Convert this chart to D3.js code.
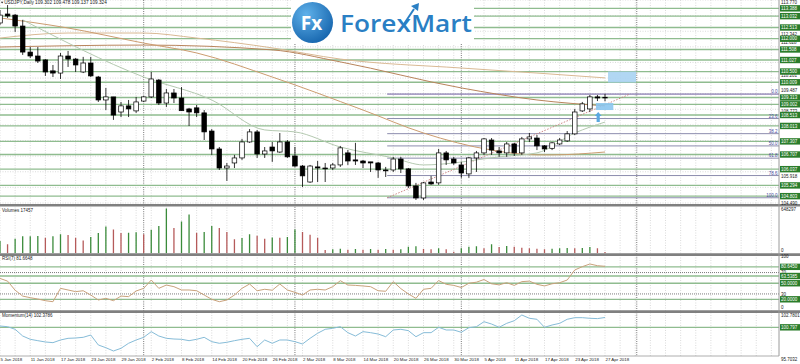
<!DOCTYPE html>
<html>
<head>
<meta charset="utf-8">
<title>USDJPY Daily</title>
<script src="https://cdn.jsdelivr.net/npm/d3@7/dist/d3.min.js"></script>
<style>
	body { margin: 0; background: #ffffff; }
	svg text { font-family: "Liberation Sans", Arial, sans-serif; font-size: 4.5px; fill: #222; }
</style>
</head>
<body>
<div id="chart-area"></div>
<script>

// ---- values ----

// one entry per daily bar, 5 Jan 2018 .. 27 Apr 2018
let open  = [112.72,113.13,113.08,112.58,111.39,111.21,111.03,110.53,110.43,111.21,111.07,110.48,110.89,110.25,109.20,109.34,108.65,108.93,108.70,109.15,
             109.34,110.11,109.06,109.52,109.29,108.79,108.84,108.61,107.78,106.96,106.09,106.32,106.55,107.28,107.74,106.73,107.05,106.82,107.28,106.64,
             106.18,105.45,106.14,106.09,106.09,106.23,106.78,106.46,106.41,106.37,106.32,106.00,106.00,106.50,106.05,105.27,104.72,105.45,105.41,106.78,
             106.50,106.23,105.82,106.55,106.78,107.37,106.87,106.78,107.19,106.78,107.42,107.46,107.10,106.99,107.19,107.33,107.65,108.70,108.79,109.34,
             109.302];
let high  = [113.31,113.54,113.13,112.86,111.62,111.62,111.07,110.80,111.35,111.44,111.12,111.17,111.17,110.30,109.75,109.34,109.11,109.20,109.34,109.38,
             110.48,110.16,109.70,109.70,109.79,108.84,108.97,108.74,107.87,107.05,106.32,106.69,107.42,107.87,107.83,107.05,107.28,107.69,107.37,107.05,
             106.23,106.23,106.41,106.32,106.32,107.10,106.91,107.24,106.46,106.37,106.37,106.14,106.60,106.60,106.09,105.41,105.45,105.73,106.96,106.87,
             106.60,106.37,106.60,106.87,107.46,107.46,107.05,107.28,107.24,107.51,107.69,107.60,107.14,107.28,107.46,107.78,108.79,109.11,109.43,109.43,
             109.478];
let low   = [112.63,112.95,112.31,111.26,111.12,110.89,110.30,110.25,110.16,110.71,110.48,110.43,110.25,109.11,108.74,108.29,108.42,108.42,108.61,109.11,
             109.29,108.97,108.88,109.06,108.70,108.01,108.42,107.37,106.69,106.00,105.50,106.09,106.46,107.24,106.55,106.55,106.37,106.78,106.55,106.14,
             105.22,105.41,105.45,105.45,106.00,106.14,106.23,106.23,106.09,105.91,105.64,105.68,105.91,105.86,105.18,104.63,104.63,105.32,105.32,106.23,
             106.23,105.64,105.64,105.91,106.69,106.69,106.60,106.60,106.64,106.69,107.28,106.91,106.82,106.91,107.14,107.28,107.60,108.65,108.65,109.15,
             109.137];
let close = [113.08,113.04,112.58,111.39,111.21,110.98,110.48,110.43,111.21,111.07,110.80,110.89,110.30,109.20,109.34,108.51,108.93,108.79,109.11,109.34,
             110.16,109.06,109.52,109.29,108.71,108.65,108.61,107.74,106.96,106.09,106.18,106.55,107.28,107.74,106.73,106.87,106.87,107.28,106.60,106.18,
             105.73,106.18,106.09,106.05,106.23,107.01,106.41,106.41,106.32,106.32,106.00,105.96,106.50,106.05,105.27,104.72,105.41,105.36,106.78,106.46,
             106.32,105.86,106.55,106.78,107.42,106.91,106.78,107.19,106.78,107.42,107.51,107.10,106.96,107.24,107.37,107.65,108.65,109.02,109.34,109.29,
             109.324];

let volume = [177000,130000,212000,245000,246000,250000,226000,245000,274000,264000,226000,187000,235000,293000,389000,346000,293000,298000,303000,274000,
              341000,394000,648297,365000,461000,562000,298000,307000,394000,365000,307000,202000,221000,274000,254000,211000,230000,226000,235000,346000,
              307000,269000,226000,48000,58000,67000,53000,62000,53000,62000,53000,62000,53000,58000,96000,101000,62000,58000,72000,58000,
              24000,72000,96000,101000,72000,130000,91000,106000,96000,82000,72000,67000,58000,67000,72000,77000,72000,77000,91000,72000,
              17457];

let rsi = [59,54,37,26,23,20.5,17.4,15.5,40.5,37.4,34.3,36,28,18.7,21.8,17.4,26,25,35.5,40.5,
           56,40.5,46.7,43.6,37.4,37.4,36,28,20,15.5,18.7,28,40.5,48.6,36,38.7,37,48.6,37.4,33,
           28,37.4,38.7,37.4,43.6,54.8,46.7,46,44.9,43.6,36,35,53,40,30,21.8,38.7,40.5,55,48,
           46,42,50,52,57,49,47,51,46,53,54,48,45,49,51,56,74.8,81,86,82.8,
           81.6648];

let momentum = [101.01,100.9,100.48,99.4,98.87,98.65,98.44,98.33,98.76,99.03,99.08,99.19,99.56,97.96,97.52,96.99,97.42,98.23,98.76,99.19,
                100.1,99.4,99.03,98.92,98.87,98.65,98.87,99.19,98.49,98.23,98.39,98.65,98.87,99.03,97.68,98.76,98.23,98.76,98.76,98.49,
                98.12,99.03,99.84,100.48,100.64,100.9,99.94,99.4,100.1,99.94,99.72,99.29,100.37,100.48,100.26,99.29,99.94,99.94,100.8,100.37,
                100.37,100.0,100.74,100.9,101.7,101.33,100.8,101.44,101.86,102.78,102.25,102.09,100.8,101.17,101.44,102.09,102.35,102.35,102.25,102.2,
                102.3786];

// moving averages, sampled at a few bars
let maSlowBar = [0, 9, 19, 26, 36, 45, 61, 71, 80];
let maSlow    = [112.03, 112.26, 112.26, 112.03, 111.58, 111.07, 110.66, 110.43, 110.21];
let maMidBar  = [0, 19, 36, 45, 61, 71, 80];
let maMid     = [111.62, 111.71, 111.49, 110.94, 109.75, 109.20, 108.93];
let maFastBar = [0, 9, 19, 26, 36, 48, 56, 65, 71, 73, 80];
let maFast    = [112.95, 112.49, 111.80, 111.35, 110.25, 108.74, 107.69, 106.91, 106.69, 106.69, 106.82];
let maShortBar = [3, 19, 28, 35, 39, 45, 52, 56, 60, 63, 66, 71, 76, 80];
let maShort    = [112.86, 110.25, 109.20, 107.83, 107.74, 107.05, 106.55, 106.23, 106.32, 106.46, 106.60, 106.78, 107.69, 108.19];

// time axis
let dateBar = [0, 4, 8, 12, 16, 20, 24, 28, 32, 36, 40, 44, 48, 52, 56, 60, 64, 68, 72, 76, 80];
let dateLabels = ["5 Jan 2018", "11 Jan 2018", "17 Jan 2018", "23 Jan 2018", "29 Jan 2018", "2 Feb 2018", "8 Feb 2018",
                  "14 Feb 2018", "20 Feb 2018", "26 Feb 2018", "2 Mar 2018", "8 Mar 2018", "14 Mar 2018", "20 Mar 2018",
                  "26 Mar 2018", "30 Mar 2018", "5 Apr 2018", "11 Apr 2018", "17 Apr 2018", "23 Apr 2018", "27 Apr 2018"];
let monthBars = [19, 39, 61, 84.2];

// price axis
let priceTicks = [113.770, 113.056, 112.342, 111.628, 110.915, 110.201, 109.487, 108.773, 108.059, 107.345, 106.632, 105.918, 105.204, 104.490];
let levels = [113.388, 113.032, 112.513, 112.000, 111.508, 111.027, 110.500, 110.009, 109.313, 109.002, 108.513, 108.013, 107.307, 106.707, 106.037, 105.294, 104.803];

// fibonacci retracement
let fibRatios = [0, 23.6, 38.2, 50, 61.8, 78.6, 100];
let fibTop = 109.47, fibBottom = 104.73;
let fibFromBar = 51.2, fibToBar = 83.3;

// marked zones
let zoneUpper = {bar0: 80.4, bar1: 84.1, p0: 110.0, p1: 110.5};
let zoneLower = {bar0: 78.8, bar1: 81.1, p0: 108.74, p1: 109.06};
let arrowBar = 79.1, arrowTip = 108.65, arrowBase = 108.19;

// indicators
let rsiTicks = [100, 70, 30, 0];
let rsiLevels = [80.6450, 63.5385, 50.0000, 20.0000];
let momTicks = [102.7801, 95.7032];
let momLevels = [100.797];
let volMax = 648297;

// ---- frame ----

let width = 800, height = 364;
let plotRight = 779;

let svg = d3.select("#chart-area").append("svg")
	.attr("width", width)
	.attr("height", height);

let defs = svg.append("defs");
[["clipMain", 0, 204.5], ["clipVol", 207, 46.5], ["clipRsi", 256, 54], ["clipMom", 313, 43]].forEach(c => {
	defs.append("clipPath").attr("id", c[0])
		.append("rect").attr("x", 0).attr("y", c[1]).attr("width", plotRight).attr("height", c[2]);
});

// scales
let x = d3.scaleLinear().domain([0, 80]).range([0, 605]);
let y = d3.scaleLinear().domain([104.49, 113.77]).range([203, 0]);
let yVol = d3.scaleLinear().domain([0, volMax]).range([253.3, 208.5]);
let yRsi = d3.scaleLinear().domain([0, 100]).range([310, 256.5]);
let yMom = d3.scaleLinear().domain([95.7032, 102.7801]).range([359, 315]);

let grid = svg.append("g");

// vertical grid, every second bar
grid.selectAll(".vgrid")
	.data(d3.range(0, 104, 2))
	.enter()
	.append("line")
	.attr("x1", d => x(d)).attr("x2", d => x(d))
	.attr("y1", 0).attr("y2", 356)
	.attr("stroke", "#d2d2d2")
	.attr("stroke-width", 0.8)
	.attr("stroke-dasharray", "1,1.5");

// horizontal grid in price panel
grid.selectAll(".hgrid")
	.data(priceTicks)
	.enter()
	.append("line")
	.attr("x1", 0).attr("x2", plotRight)
	.attr("y1", d => y(d)).attr("y2", d => y(d))
	.attr("stroke", "#d2d2d2")
	.attr("stroke-width", 0.8)
	.attr("stroke-dasharray", "1,1.5");

// month separators
grid.selectAll(".sep")
	.data(monthBars)
	.enter()
	.append("line")
	.attr("x1", d => x(d)).attr("x2", d => x(d))
	.attr("y1", 0).attr("y2", 356)
	.attr("stroke", "#555")
	.attr("stroke-width", 0.8)
	.attr("stroke-dasharray", "1,1.2");

// ---- price panel ----

let main = svg.append("g").attr("clip-path", "url(#clipMain)");

main.selectAll(".level")
	.data(levels)
	.enter()
	.append("line")
	.attr("x1", 0).attr("x2", plotRight)
	.attr("y1", d => y(d)).attr("y2", d => y(d))
	.attr("stroke", "#8fbc8f")
	.attr("stroke-width", 1.3);

// fibonacci levels
let fibPrice = r => fibTop - (fibTop - fibBottom) * r / 100;
main.selectAll(".fib")
	.data(fibRatios)
	.enter()
	.append("line")
	.attr("x1", x(fibFromBar)).attr("x2", plotRight)
	.attr("y1", d => y(fibPrice(d))).attr("y2", d => y(fibPrice(d)))
	.attr("stroke", d => d === 0 ? "#6a5a9e" : "#8c8cae")
	.attr("stroke-width", 1);

main.append("line")
	.attr("x1", x(fibFromBar)).attr("y1", y(fibBottom))
	.attr("x2", x(fibToBar)).attr("y2", y(fibTop))
	.attr("stroke", "#c87a7a")
	.attr("stroke-width", 0.9)
	.attr("stroke-dasharray", "1.5,1.5");

// moving averages
let maLine = d3.line()
	.x(d => x(d[0]))
	.y(d => y(d[1]))
	.curve(d3.curveMonotoneX);

[[maSlowBar, maSlow, "#d9b994"], [maMidBar, maMid, "#b9845c"], [maFastBar, maFast, "#cc9c70"], [maShortBar, maShort, "#b4c9b0"]]
	.forEach(m => {
		main.append("path")
			.datum(m[0].map((b, i) => [b, m[1][i]]))
			.attr("d", maLine)
			.attr("fill", "none")
			.attr("stroke", m[2])
			.attr("stroke-width", 1);
	});

// candles
let bars = open.map((o, i) => ({i: i, o: o, h: high[i], l: low[i], c: close[i]}));

main.selectAll(".wick")
	.data(bars)
	.enter()
	.append("line")
	.attr("x1", d => x(d.i)).attr("x2", d => x(d.i))
	.attr("y1", d => y(d.h)).attr("y2", d => y(d.l))
	.attr("stroke", "#000")
	.attr("stroke-width", 0.8);

main.selectAll(".body")
	.data(bars)
	.enter()
	.append("rect")
	.attr("x", d => x(d.i) - 2.3)
	.attr("width", 4.6)
	.attr("y", d => y(Math.max(d.o, d.c)))
	.attr("height", d => Math.max(0.7, Math.abs(y(d.o) - y(d.c))))
	.attr("fill", d => d.c >= d.o ? "#fff" : "#000")
	.attr("stroke", "#000")
	.attr("stroke-width", 0.7);

// blue zones and arrow
[[zoneUpper, "#a9d3f2"], [zoneLower, "#8cc6ef"]].forEach(z => {
	main.append("rect")
		.attr("x", x(z[0].bar0))
		.attr("width", x(z[0].bar1) - x(z[0].bar0))
		.attr("y", y(z[0].p1))
		.attr("height", y(z[0].p0) - y(z[0].p1))
		.attr("fill", z[1])
		.attr("opacity", 0.9);
});

let ax = x(arrowBar), at = y(arrowTip), ab = y(arrowBase);
main.append("path")
	.attr("d", "M" + ax + "," + at + "L" + (ax + 3.5) + "," + (at + 4) + "L" + (ax + 1.6) + "," + (at + 4) +
		"L" + (ax + 1.6) + "," + ab + "L" + (ax - 1.6) + "," + ab + "L" + (ax - 1.6) + "," + (at + 4) +
		"L" + (ax - 3.5) + "," + (at + 4) + "Z")
	.attr("fill", "#5aa8e0");

// logo
let logo = svg.append("g");
logo.append("rect")
	.attr("x", 291).attr("y", 0).attr("width", 183).attr("height", 44)
	.attr("fill", "#fff");

let grad = defs.append("radialGradient").attr("id", "fxGrad")
	.attr("cx", "35%").attr("cy", "30%").attr("r", "75%");
grad.append("stop").attr("offset", "0%").attr("stop-color", "#5fb1ea");
grad.append("stop").attr("offset", "100%").attr("stop-color", "#1766ae");

logo.append("circle")
	.attr("cx", 312.5).attr("cy", 22.5).attr("r", 20.5)
	.attr("fill", "url(#fxGrad)");
logo.append("text")
	.attr("x", 311.5).attr("y", 29.5)
	.attr("text-anchor", "middle")
	.style("font-family", "Open Sans")
	.style("font-size", "19px")
	.style("font-weight", "700")
	.style("fill", "#fff")
	.text("Fx");
logo.append("text")
	.attr("x", 340).attr("y", 31.7)
	.attr("textLength", 132)
	.attr("lengthAdjust", "spacingAndGlyphs")
	.style("font-family", "Open Sans")
	.style("font-size", "23px")
	.style("font-weight", "600")
	.style("fill", "#2a7fc4")
	.text("ForexMart");
logo.append("line")
	.attr("x1", 404).attr("y1", 24).attr("x2", 414).attr("y2", 9)
	.attr("stroke", "#2a7fc4").attr("stroke-width", 2);
logo.append("path")
	.attr("d", "M411,6L419,3L418,11Z")
	.attr("fill", "#2a7fc4");

// title
svg.append("path").attr("d", "M0.8,1.8L3.4,1.8L2.1,3.6Z").attr("fill", "#222");
svg.append("text")
	.attr("x", 4.2).attr("y", 4.4)
	.style("font-size", "4.7px")
	.text("USDJPY,Daily  " + [open[80], high[80], low[80], close[80]].map(d => d.toFixed(3)).join(" "));

// ---- volumes ----

let vol = svg.append("g").attr("clip-path", "url(#clipVol)");
vol.selectAll(".vbar")
	.data(volume)
	.enter()
	.append("line")
	.attr("x1", (d, i) => x(i)).attr("x2", (d, i) => x(i))
	.attr("y1", yVol(0)).attr("y2", d => yVol(d))
	.attr("stroke", (d, i) => (i === 0 || d >= volume[i - 1]) ? "#3b8b3b" : "#b55a5a")
	.attr("stroke-width", 1.3);

// ---- RSI ----

let rsiG = svg.append("g").attr("clip-path", "url(#clipRsi)");
rsiG.selectAll(".rlevel")
	.data(rsiLevels)
	.enter()
	.append("line")
	.attr("x1", 0).attr("x2", plotRight)
	.attr("y1", d => yRsi(d)).attr("y2", d => yRsi(d))
	.attr("stroke", "#8fbc8f")
	.attr("stroke-width", 1.3);
rsiG.selectAll(".rdot")
	.data([70, 30])
	.enter()
	.append("line")
	.attr("x1", 0).attr("x2", plotRight)
	.attr("y1", d => yRsi(d)).attr("y2", d => yRsi(d))
	.attr("stroke", "#444")
	.attr("stroke-width", 0.7)
	.attr("stroke-dasharray", "1,1");
rsiG.append("path")
	.datum(rsi)
	.attr("d", d3.line().x((d, i) => x(i)).y(d => yRsi(d)))
	.attr("fill", "none")
	.attr("stroke", "#c9a27c")
	.attr("stroke-width", 1);

// ---- Momentum ----

let momG = svg.append("g").attr("clip-path", "url(#clipMom)");
momG.selectAll(".mlevel")
	.data(momLevels)
	.enter()
	.append("line")
	.attr("x1", 0).attr("x2", plotRight)
	.attr("y1", d => yMom(d)).attr("y2", d => yMom(d))
	.attr("stroke", "#8fbc8f")
	.attr("stroke-width", 1.3);
momG.append("path")
	.datum(momentum)
	.attr("d", d3.line().x((d, i) => x(i)).y(d => yMom(d)))
	.attr("fill", "none")
	.attr("stroke", "#86bcd8")
	.attr("stroke-width", 1);

// panel separators and frame
[205.3, 254.6, 311.6].forEach(s => {
	svg.append("line")
		.attr("x1", 0).attr("x2", width)
		.attr("y1", s).attr("y2", s)
		.attr("stroke", "#808080")
		.attr("stroke-width", 2.6);
});
svg.append("line")
	.attr("x1", 0).attr("x2", plotRight)
	.attr("y1", 356).attr("y2", 356)
	.attr("stroke", "#9a9a9a").attr("stroke-width", 0.8);
svg.append("line")
	.attr("x1", plotRight).attr("x2", plotRight)
	.attr("y1", 0).attr("y2", 356)
	.attr("stroke", "#9a9a9a").attr("stroke-width", 1);

// ---- right axis labels ----

let axisText = svg.append("g");
let labelX = plotRight + 2;

// plain price ticks: hidden when a level tag sits on them, nudged out when half covered
let tagY = levels.map(d => y(d));
let tickPos = priceTicks.map(d => {
	let p = y(d);
	let near = tagY.reduce((a, b) => Math.abs(b - p) < Math.abs(a - p) ? b : a);
	let gap = p - near;
	if (Math.abs(gap) < 2.5) return null;
	if (Math.abs(gap) < 7.2) p = near + (gap > 0 ? 7.2 : -7.2);
	return {v: d, p: Math.max(p, 1.9)};
}).filter(d => d);

axisText.selectAll(".ptick")
	.data(tickPos)
	.enter()
	.append("text")
	.attr("x", labelX).attr("y", d => d.p + 1.6)
	.text(d => d.v.toFixed(3));

function greenTag(value, yPos, digits) {
	axisText.append("rect")
		.attr("x", plotRight + 1).attr("y", yPos - 3.2)
		.attr("width", 22).attr("height", 6.4)
		.attr("fill", "#2b7d2b");
	axisText.append("text")
		.attr("x", labelX).attr("y", yPos + 1.6)
		.style("fill", "#fff")
		.text(value.toFixed(digits));
}
levels.forEach(d => greenTag(d, y(d), 3));

// fib ratio labels
svg.selectAll(".fiblabel")
	.data(fibRatios)
	.enter()
	.append("text")
	.attr("x", plotRight - 1.5)
	.attr("y", d => y(fibPrice(d)) - 1)
	.attr("text-anchor", "end")
	.style("fill", "#4b4ba2")
	.text(d => d.toFixed(1));

// volume axis
axisText.append("text").attr("x", labelX).attr("y", 211).text(volMax);
axisText.append("text").attr("x", labelX).attr("y", 252).text("0");

// rsi axis
axisText.selectAll(".rtick")
	.data(rsiTicks)
	.enter()
	.append("text")
	.attr("x", labelX).attr("y", d => Math.min(yRsi(d) + 1.6, 308.6))
	.text(d => d);
rsiLevels.forEach(d => greenTag(d, yRsi(d), 4));

// momentum axis
axisText.selectAll(".mtick")
	.data(momTicks)
	.enter()
	.append("text")
	.attr("x", labelX).attr("y", d => yMom(d) + 1.6)
	.text(d => d.toFixed(4));
momLevels.forEach(d => greenTag(d, yMom(d), 3));

// indicator titles
svg.append("text").attr("x", 2).attr("y", 211.5).text("Volumes " + volume[volume.length - 1]);
svg.append("text").attr("x", 2).attr("y", 259.6).text("RSI(7) " + rsi[rsi.length - 1].toFixed(4));
svg.append("text").attr("x", 2).attr("y", 316.6).text("Momentum(14) " + momentum[momentum.length - 1].toFixed(4));

// ---- date axis ----

svg.selectAll(".date")
	.data(dateLabels)
	.enter()
	.append("text")
	.attr("x", (d, i) => x(dateBar[i]) + 0.5)
	.attr("y", 361)
	.style("font-size", "4.4px")
	.text(d => d);

</script>
</body>
</html>
